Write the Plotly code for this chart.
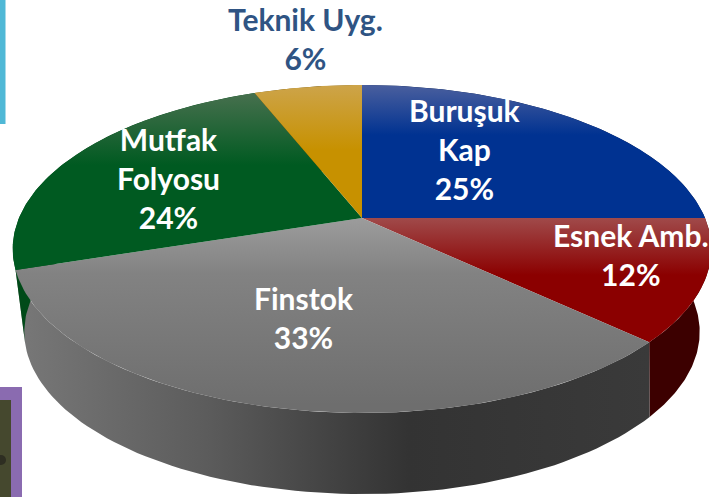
import numpy as np
import plotly.graph_objects as go

# pay dilimleri (saat yönünde, tepeden başlayarak)
labels = ["Buruşuk<br>Kap", "Esnek Amb.", "Finstok", "Mutfak<br>Folyosu", "Teknik Uyg."]
values = [25, 12, 33, 24, 6]
top_scales = [
    [[0, "#4a5f9e"], [1, "#003291"]],
    [[0, "#a04a4a"], [1, "#8b0000"]],
    [[0, "#9c9c9c"], [0.3, "#828282"], [1, "#6e6e6e"]],
    [[0, "#47704e"], [1, "#005a21"]],
    [[0, "#cda44a"], [1, "#c79100"]],
]
top_fade = [135, 275, 405, 165, 150]
wall_colors = ["#001a50", "#3c0000", None, "#004a18", "#6a4d00"]
gray_wall = [[0, "#787878"], [0.3, "#5c5c5c"], [0.62, "#333333"], [1, "#3a3a3a"]]
label_x = [465, 631, 304, 168, 305]
label_y = [149, 254, 317, 178, 38]

W, H = 709, 497
# üst ve alt daire için perspektif parametreleri
TOP = dict(cx=362, cy=218, b=343, a=158.1, k=0.189)
BOTTOM = dict(cx=362, cy=291.4, b=327, a=152, k=0.25)


def project(theta, p):
    u, v = np.sin(theta), -np.cos(theta)
    d = 1 - p["k"] * v
    return p["cx"] + p["b"] * u / d, p["cy"] + p["a"] * v / d


fractions = np.cumsum([0] + values) / sum(values)
fig = go.Figure()

# dış duvarlar
for i in range(len(values)):
    th = np.linspace(fractions[i], fractions[i + 1], 80) * 2 * np.pi
    x1, y1 = project(th, TOP)
    x2, y2 = project(th[::-1], BOTTOM)
    x = np.concatenate([x1, x2, x1[:1]])
    y = np.concatenate([y1, y2, y1[:1]])
    if wall_colors[i] is None:
        fig.add_trace(go.Scatter(x=x, y=y, mode="lines", line=dict(width=0), fill="toself",
                                 fillgradient=dict(type="horizontal", colorscale=gray_wall),
                                 hoverinfo="skip"))
    else:
        fig.add_trace(go.Scatter(x=x, y=y, mode="lines", line=dict(width=0), fill="toself",
                                 fillcolor=wall_colors[i], hoverinfo="skip"))

# üst yüzey
for i in range(len(values)):
    th = np.linspace(fractions[i], fractions[i + 1], 120) * 2 * np.pi
    ax, ay = project(th, TOP)
    x = np.concatenate([[TOP["cx"]], ax, [TOP["cx"]]])
    y = np.concatenate([[TOP["cy"]], ay, [TOP["cy"]]])
    fig.add_trace(go.Scatter(
        x=x, y=y, mode="lines", line=dict(width=0), fill="toself",
        fillgradient=dict(type="vertical", start=float(y.min()), stop=top_fade[i],
                          colorscale=top_scales[i]),
        hoverinfo="skip",
    ))

for i, lab in enumerate(labels):
    color = "#2f5483" if lab.startswith("Teknik") else "white"
    fig.add_annotation(x=label_x[i], y=label_y[i], text=f"{lab}<br>{values[i]}%", showarrow=False,
                       font=dict(family="Lato", size=30, color=color, weight="bold"), align="center")

# arka plandaki slayt kutuları (kenarda kalan parçalar)
fig.update_layout(
    width=W, height=H, autosize=False, showlegend=False,
    margin=dict(l=0, r=0, t=0, b=0),
    paper_bgcolor="white", plot_bgcolor="white",
    xaxis=dict(range=[0, W], visible=False, fixedrange=True),
    yaxis=dict(range=[H, 0], visible=False, fixedrange=True),
    shapes=[
        dict(type="rect", x0=-10, x1=5.5, y0=-10, y1=124, fillcolor="#4fb8d6", line_width=0, layer="below"),
        dict(type="rect", x0=-10, x1=22, y0=387, y1=H + 5, fillcolor="#8a6bb0", line_width=0, layer="below"),
        dict(type="rect", x0=-10, x1=11, y0=400, y1=H + 5, fillcolor="#45482e", line_width=0, layer="below"),
        dict(type="circle", x0=-4, x1=6, y0=455, y1=465, fillcolor="#2e2e22", line_width=0, layer="below"),
    ],
)

fig.write_html("out.html", config=dict(displayModeBar=False),
               post_script="document.body.style.margin='0';")
